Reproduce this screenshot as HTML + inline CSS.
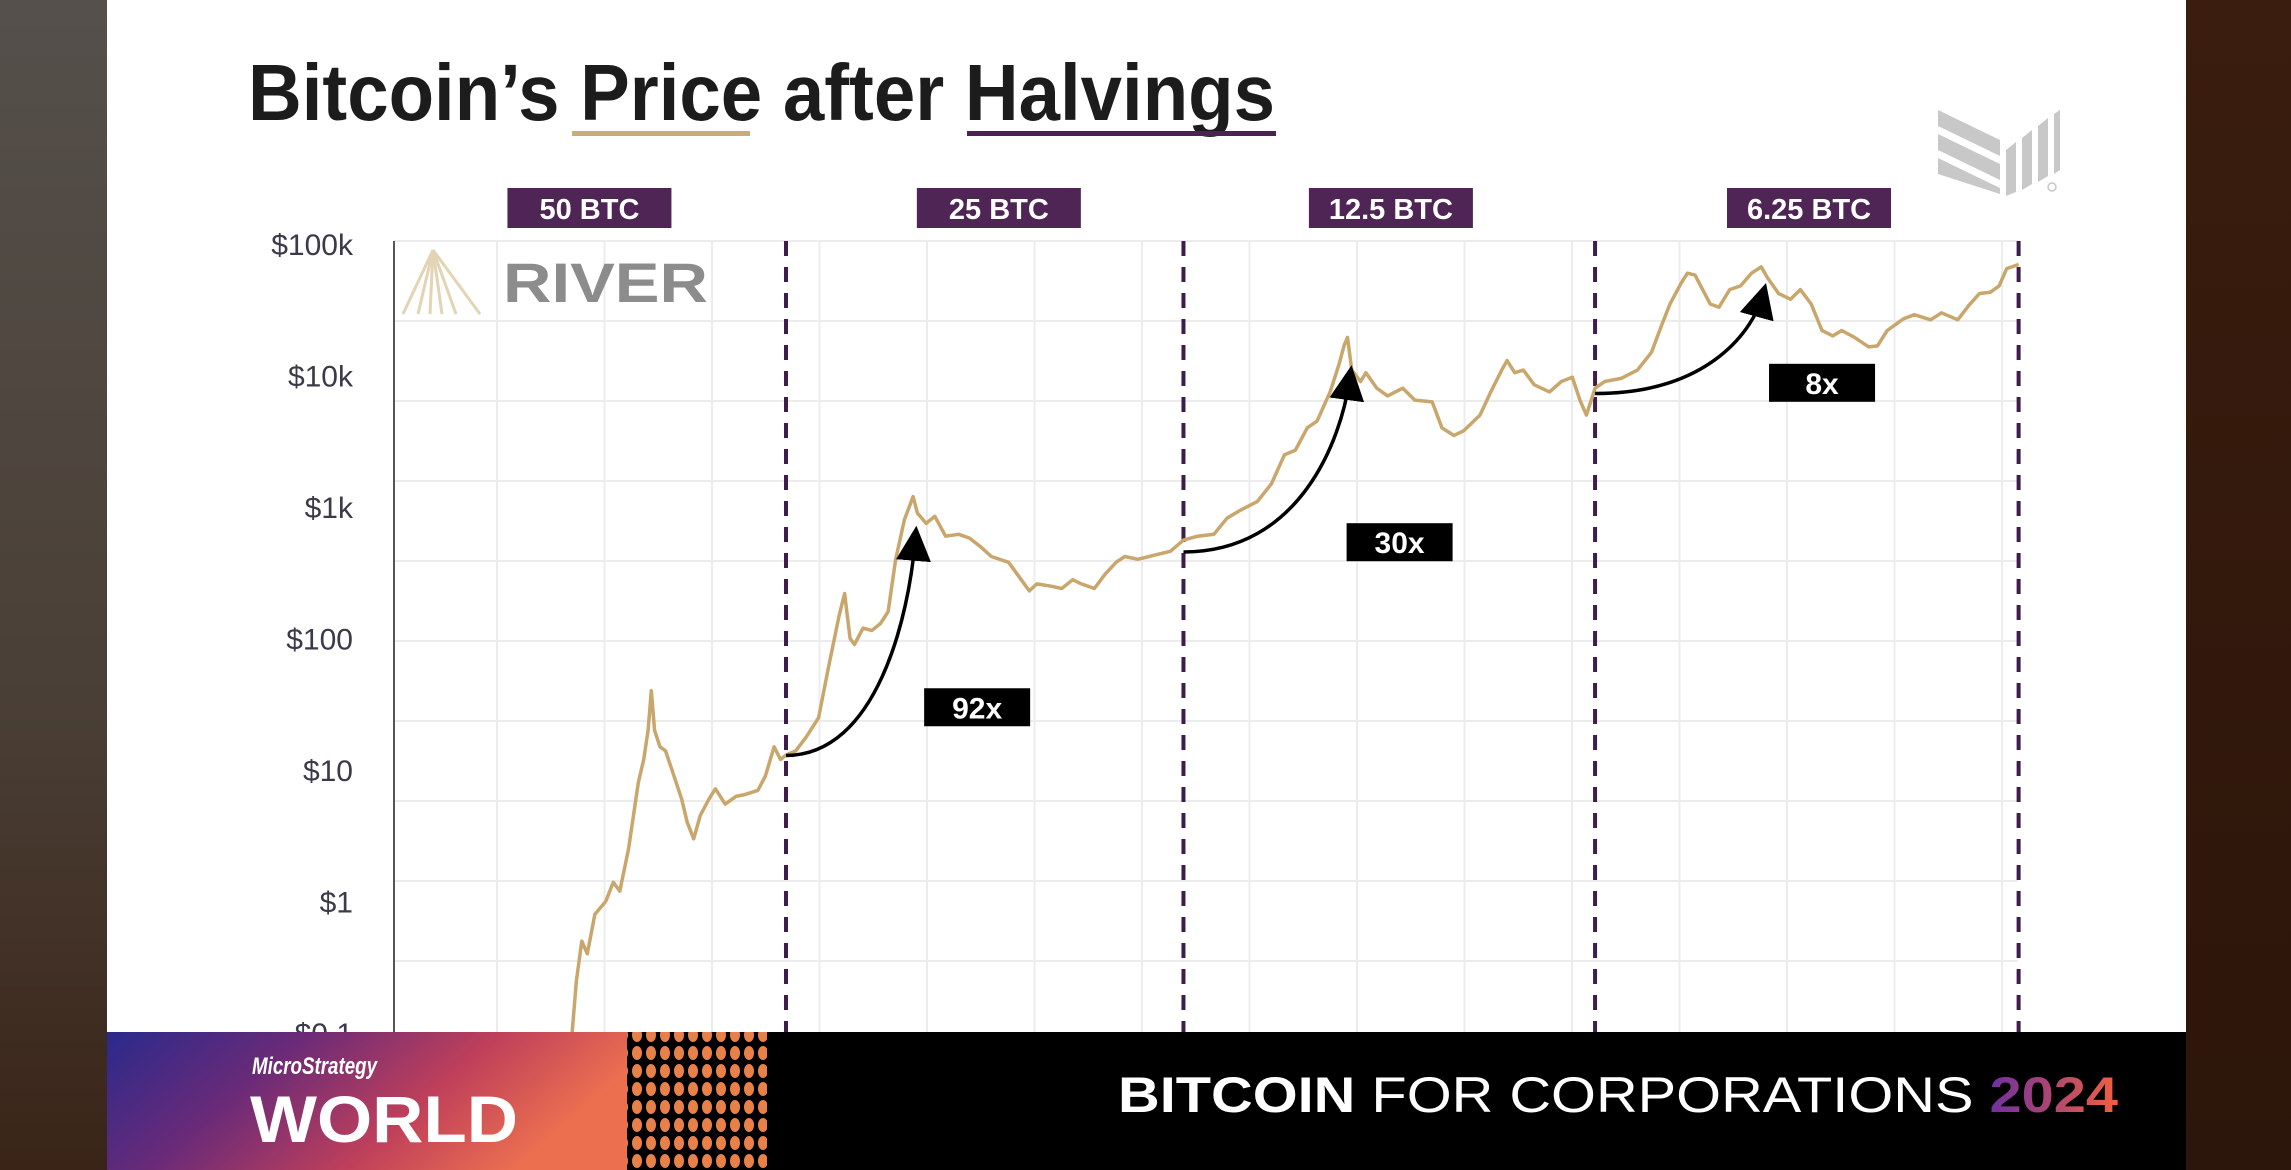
<!DOCTYPE html>
<html><head><meta charset="utf-8">
<style>
html,body{margin:0;padding:0;background:#000;}
svg{display:block;}
text{font-family:"Liberation Sans",sans-serif;}
</style></head>
<body>
<svg id="chart" width="2291" height="1170" viewBox="0 0 2291 1170" xmlns="http://www.w3.org/2000/svg">
<defs>
<linearGradient id="leftbg" x1="0" y1="0" x2="0" y2="1"><stop offset="0" stop-color="#55504b"/><stop offset="0.6" stop-color="#4a3f36"/><stop offset="1" stop-color="#3a2418"/></linearGradient>
<linearGradient id="rightbg" x1="0" y1="0" x2="0" y2="1"><stop offset="0" stop-color="#3a1d0e"/><stop offset="1" stop-color="#2c150a"/></linearGradient>
<linearGradient id="bannergrad" x1="0" y1="0" x2="1" y2="0.3"><stop offset="0" stop-color="#2a2a8c"/><stop offset="0.35" stop-color="#6a2a78"/><stop offset="0.7" stop-color="#c0405a"/><stop offset="1" stop-color="#ec7050"/></linearGradient>
<linearGradient id="yeargrad" gradientUnits="userSpaceOnUse" x1="1990" y1="0" x2="2118" y2="0"><stop offset="0" stop-color="#7030a0"/><stop offset="1" stop-color="#f06040"/></linearGradient>
<pattern id="dots" width="14" height="18" patternUnits="userSpaceOnUse"><ellipse cx="7" cy="9" rx="5" ry="7" fill="#e8804a"/></pattern>
<marker id="arrowhead" markerWidth="10" markerHeight="10" refX="6" refY="5" orient="auto" markerUnits="strokeWidth"><path d="M0,0 L10,5 L0,10 z" fill="#000"/></marker>
</defs>
<rect x="0" y="0" width="107" height="1170" fill="url(#leftbg)"/>
<rect x="2186" y="0" width="105" height="1170" fill="url(#rightbg)"/>
<rect x="107" y="0" width="2079" height="1032" fill="#ffffff"/>

<g>
<text x="248" y="120" font-size="80" font-weight="bold" fill="#1c1c1c" textLength="1027" lengthAdjust="spacingAndGlyphs">Bitcoin’s Price after Halvings</text>
<rect x="572" y="131" width="178" height="5" fill="#c7ad78"/>
<rect x="967" y="131" width="309" height="5" fill="#4a2350"/>
</g>

<g fill="#c8c8c8">
<polygon points="1938,110 2000,140 2000,156 1938,126"/>
<polygon points="1938,134 2000,164 2000,180 1938,150"/>
<polygon points="1938,158 2000,188 2000,194 1938,174"/>
<polygon points="2006,150 2016,142 2016,192 2006,196"/>
<polygon points="2022,138 2032,130 2032,184 2022,190"/>
<polygon points="2038,126 2048,118 2048,176 2038,182"/>
<polygon points="2054,114 2060,110 2060,170 2054,174"/>
<circle cx="2052" cy="187" r="4" fill="none" stroke="#c8c8c8" stroke-width="1.5"/>
</g>

<g id="grid"></g>

<g>
<g stroke="#e2d4b4" stroke-width="3" fill="none">
<line x1="433" y1="250" x2="403" y2="314"/><line x1="433" y1="250" x2="418" y2="314"/><line x1="433" y1="250" x2="430" y2="314"/><line x1="433" y1="250" x2="442" y2="314"/><line x1="433" y1="250" x2="456" y2="314"/><line x1="433" y1="250" x2="480" y2="314"/>
</g>
<text x="503" y="302" font-size="56" font-weight="bold" fill="#8c8c8c" textLength="205" lengthAdjust="spacingAndGlyphs">RIVER</text>
</g>

<g id="halvings"></g>
<g id="series"></g>
<g id="arrows"></g>
<g id="yaxis"></g>
<g id="topLabels"></g>

<g>
<rect x="107" y="1032" width="2079" height="138" fill="#000"/>
<rect x="107" y="1032" width="520" height="138" fill="url(#bannergrad)"/>
<rect x="627" y="1032" width="140" height="138" fill="url(#dots)"/>
<text x="252" y="1074" font-size="24" font-weight="bold" font-style="italic" fill="#fff" textLength="125" lengthAdjust="spacingAndGlyphs">MicroStrategy</text>
<text x="250" y="1142" font-size="66" font-weight="bold" fill="#fff" textLength="268" lengthAdjust="spacingAndGlyphs">WORLD</text>
<text x="1118" y="1112" font-size="50" fill="#fff" textLength="1000" lengthAdjust="spacingAndGlyphs"><tspan font-weight="bold">BITCOIN</tspan> FOR CORPORATIONS <tspan font-weight="bold" fill="url(#yeargrad)">2024</tspan></text>
</g>
</svg>
<script>
// ---- data ----
const dates = [2010.94,2010.98,2011.03,2011.08,2011.15,2011.25,2011.32,2011.38,2011.46,2011.55,2011.6,2011.64,2011.67,2011.7,2011.75,2011.8,2011.86,2011.95,2012.0,2012.06,2012.12,2012.2,2012.26,2012.35,2012.45,2012.53,2012.65,2012.72,2012.8,2012.86,2012.91,2013.0,2013.1,2013.21,2013.3,2013.4,2013.45,2013.5,2013.54,2013.62,2013.7,2013.78,2013.85,2013.92,2014.0,2014.08,2014.12,2014.2,2014.28,2014.38,2014.5,2014.6,2014.7,2014.8,2014.96,2015.05,2015.15,2015.22,2015.35,2015.45,2015.55,2015.63,2015.75,2015.85,2015.95,2016.03,2016.15,2016.3,2016.45,2016.57,2016.7,2016.85,2016.97,2017.1,2017.25,2017.38,2017.5,2017.6,2017.71,2017.8,2017.92,2018.0,2018.05,2018.08,2018.12,2018.2,2018.25,2018.35,2018.45,2018.59,2018.7,2018.86,2018.95,2019.06,2019.15,2019.3,2019.4,2019.5,2019.55,2019.62,2019.7,2019.8,2019.94,2020.05,2020.15,2020.22,2020.28,2020.36,2020.45,2020.6,2020.75,2020.88,2020.98,2021.05,2021.15,2021.21,2021.28,2021.35,2021.42,2021.5,2021.6,2021.7,2021.8,2021.89,2021.95,2022.05,2022.16,2022.25,2022.35,2022.45,2022.55,2022.63,2022.75,2022.88,2022.96,2023.05,2023.2,2023.3,2023.45,2023.55,2023.7,2023.8,2023.9,2024.0,2024.08,2024.15,2024.22,2024.26];
const prices = [0.1,0.25,0.5,0.4,0.8,1.0,1.4,1.2,2.5,8,12,20,40,20,15,14,10,6,4,3,4.5,6,7.2,5.5,6.3,6.5,7,9,15,12,13,14,18,25,60,150,220,100,90,120,115,130,160,400,800,1200,900,750,850,600,620,580,500,420,380,300,230,260,250,240,280,260,240,310,380,420,400,430,460,560,600,620,820,950,1100,1500,2500,2700,4000,4500,7500,12000,17000,19500,11000,9000,10500,8000,7000,8000,6500,6300,4000,3500,3800,5000,7500,11000,13000,10500,11000,8500,7500,9000,9700,6500,5000,8000,9000,9500,11000,15000,25000,35000,50000,60000,58000,45000,35000,33000,45000,48000,60000,67000,55000,42000,38000,45000,35000,22000,20000,22000,19500,16500,16800,22000,27000,29000,26500,30000,26500,34000,42000,43000,48000,65000,68000,70000];
const halvingDates = [2012.91,2016.57,2020.36,2024.26];
const rewardLabels = ["50 BTC","25 BTC","12.5 BTC","6.25 BTC"];
const rewardLabelDates = [2011.1,2014.87,2018.48,2022.33];
const yTickValues = [100000,10000,1000,100,10,1,0.1];
const yTickLabels = ["$100k","$10k","$1k","$100","$10","$1","$0.1"];
const arrowStartDates = [2012.91,2016.57,2020.36];
const arrowStartPrices = [12.9,455,7300];
const arrowEndDates = [2014.1,2018.1,2021.9];
const arrowEndPrices = [720,12000,51000];
const multLabels = ["92x","30x","8x"];
const multDates = [2014.67,2018.56,2022.45];
const multPrices = [30,540,8800];

// ---- axes ----
const NS = "http://www.w3.org/2000/svg";
const X0 = 786, T0 = 2012.91, PXY = 108.6;
const Y0 = 244, DEC = 131.5;
function xs(t){ return X0 + (t - T0) * PXY; }
function ys(p){ return Y0 + (5 - Math.log10(p)) * DEC; }
function mk(tag, attrs, parent){ const e = document.createElementNS(NS, tag); for (const k in attrs) e.setAttribute(k, attrs[k]); parent.appendChild(e); return e; }
const plotLeft = 394, plotRight = 2018, plotTop = 241, plotBottom = 1032;

const grid = document.getElementById('grid');
for (let x = 497; x < plotRight; x += 107.5) {
  const l = mk('line', {x1:x, y1:plotTop, x2:x, y2:plotBottom, stroke:'#ececec', 'stroke-width':2}, grid);
  
  
}
for (let y = plotTop; y < plotBottom; y += 80) {
  const l = mk('line', {x1:plotLeft, y1:y, x2:plotRight, y2:y, stroke:'#ececec', 'stroke-width':2}, grid);
  
  
}

const yaxis = document.getElementById('yaxis');
const axl = mk('line', {x1:plotLeft, y1:plotTop, x2:plotLeft, y2:plotBottom, stroke:'#555', 'stroke-width':2}, yaxis);


yTickValues.forEach((v, i) => {
  const t = mk('text', {x:353, y:ys(v) + 11, 'text-anchor':'end', 'font-size':30, fill:'#3a3a48'}, yaxis);
  t.textContent = yTickLabels[i];
  
  
});

const hv = document.getElementById('halvings');
halvingDates.forEach(d => {
  const l = mk('line', {x1:xs(d), y1:plotTop, x2:xs(d), y2:plotBottom, stroke:'#3e1d4c', 'stroke-width':4, 'stroke-dasharray':'15 11'}, hv);
  
  
});

const tl = document.getElementById('topLabels');
rewardLabels.forEach((s, i) => {
  const cx = xs(rewardLabelDates[i]);
  const r = mk('rect', {x:cx - 82, y:188, width:164, height:40, fill:'#4f2556'}, tl);
  
  
  const t = mk('text', {x:cx, y:219, 'text-anchor':'middle', 'font-size':29, 'font-weight':'bold', fill:'#fff'}, tl);
  t.textContent = s;
  
  
});

const series = document.getElementById('series');
let d = '';
dates.forEach((t, i) => { d += (i ? 'L' : 'M') + xs(t).toFixed(1) + ',' + Math.min(ys(prices[i]), 1040).toFixed(1); });
const pl = mk('path', {d:d, fill:'none', stroke:'#c9a66b', 'stroke-width':3.5, 'stroke-linejoin':'round'}, series);



const ar = document.getElementById('arrows');
arrowStartDates.forEach((t, i) => {
  const x1 = xs(t), y1 = ys(arrowStartPrices[i]);
  const x2 = xs(arrowEndDates[i]), y2 = ys(arrowEndPrices[i]);
  const c1x = x1 + (x2 - x1) * 0.7, c1y = y1;
  const c2x = x2 - (x2 - x1) * 0.05, c2y = y1 - (y1 - y2) * 0.6;
  const p = mk('path', {d:`M${x1},${y1} C${c1x},${c1y} ${c2x},${c2y} ${x2},${y2 + 14}`, fill:'none', stroke:'#000', 'stroke-width':3.5, 'marker-end':'url(#arrowhead)'}, ar);
  
  
  const cx = xs(multDates[i]), cy = ys(multPrices[i]);
  const r = mk('rect', {x:cx - 53, y:cy - 19, width:106, height:38, fill:'#000'}, ar);
  
  
  const tx = mk('text', {x:cx, y:cy + 11, 'text-anchor':'middle', 'font-size':30, 'font-weight':'bold', fill:'#fff'}, ar);
  tx.textContent = multLabels[i];
  
  
});
</script>
</body></html>
